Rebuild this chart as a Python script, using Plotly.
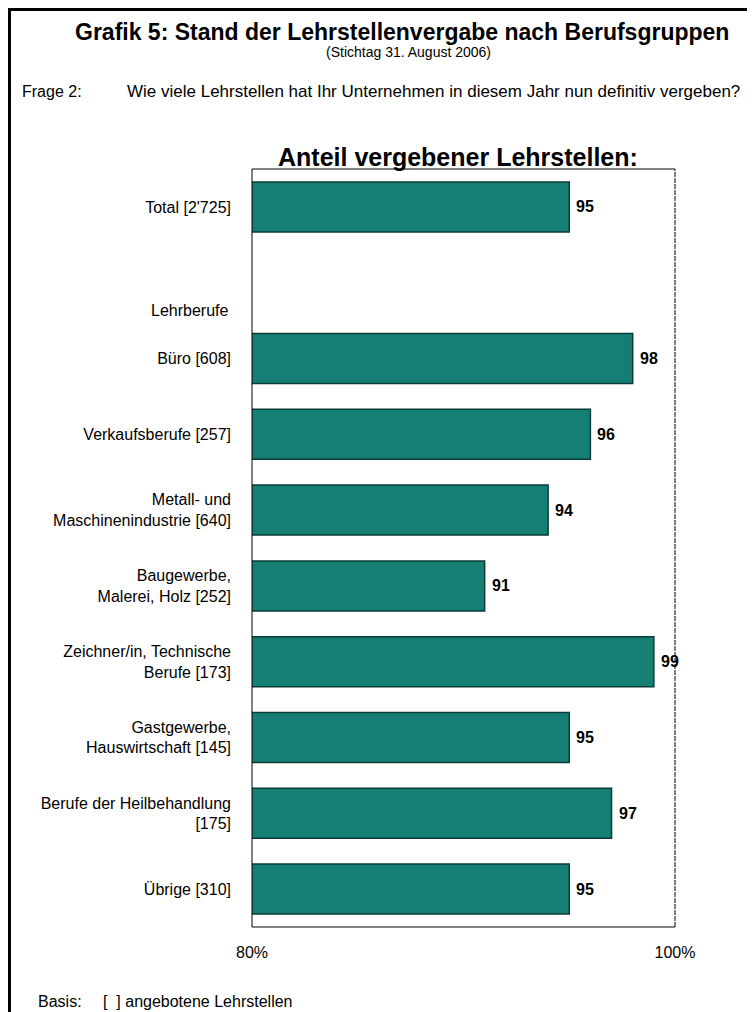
import plotly.graph_objects as go

categories = [
    "Total [2'725]",
    " ",
    "Büro [608]",
    "Verkaufsberufe [257]",
    "Metall- und<br>Maschinenindustrie [640]",
    "Baugewerbe,<br>Malerei, Holz [252]",
    "Zeichner/in, Technische<br>Berufe [173]",
    "Gastgewerbe,<br>Hauswirtschaft [145]",
    "Berufe der Heilbehandlung<br>[175]",
    "Übrige [310]",
]
values = [95, None, 98, 96, 94, 91, 99, 95, 97, 95]
tick_vals = [80, 100]
tick_text = ["80%", "100%"]

# page body has an 8px margin: work in reference pixels, then shift by OFF
OFF = 8
W, H = 755 - OFF, 1012 - OFF
L, R, T, B = 252 - OFF, 675 - OFF, 169 - OFF, 927 - OFF
FONT = "Liberation Sans, Arial, sans-serif"

def px(x):
    return (x - OFF - L) / (R - L)

def py(y):
    return (B - (y - OFF)) / (B - T)

fig = go.Figure()
fig.add_trace(go.Bar(
    y=categories,
    x=values,
    orientation="h",
    marker=dict(color="#167F74", line=dict(color="#0B3B35", width=1.5)),
    hoverinfo="skip",
))

shapes = [
    # outer frame
    dict(type="rect", xref="paper", yref="paper", x0=px(9.5), x1=px(780), y0=py(1040), y1=py(9.5),
         line=dict(color="black", width=3), layer="below"),
    # plot frame
    dict(type="line", xref="paper", yref="paper", x0=0, x1=1, y0=1, y1=1, line=dict(color="black", width=1)),
    dict(type="line", xref="paper", yref="paper", x0=0, x1=1, y0=0, y1=0, line=dict(color="black", width=1)),
    dict(type="line", xref="paper", yref="paper", x0=0, x1=0, y0=0, y1=1, line=dict(color="black", width=1)),
    dict(type="line", xref="paper", yref="paper", x0=1, x1=1, y0=0, y1=1,
         line=dict(color="black", width=1, dash="5px,1px")),
]

annotations = [
    dict(text="<b>Grafik 5: Stand der Lehrstellenvergabe nach Berufsgruppen</b>", x=px(402), y=py(32),
         font=dict(size=23)),
    dict(text="(Stichtag 31. August 2006)", x=px(408), y=py(52), font=dict(size=14)),
    dict(text="Frage 2:", x=px(20), y=py(91), xanchor="left", font=dict(size=16)),
    dict(text="Wie viele Lehrstellen hat Ihr Unternehmen in diesem Jahr nun definitiv vergeben?",
         x=px(125), y=py(91), xanchor="left", font=dict(size=17)),
    dict(text="<b>Anteil vergebener Lehrstellen:</b>", x=px(458), y=py(157), font=dict(size=25)),
    dict(text="Lehrberufe", x=px(230), y=py(310), xanchor="right", font=dict(size=16)),
    dict(text="Basis:", x=px(36), y=py(1001), xanchor="left", font=dict(size=16)),
    dict(text="[  ] angebotene Lehrstellen", x=px(101), y=py(1001), xanchor="left", font=dict(size=16)),
]
for a in annotations:
    a.update(xref="paper", yref="paper", showarrow=False, yanchor="middle")
    a.setdefault("xanchor", "center")
    a["font"].update(family=FONT, color="black")

# value labels built from the data
for c, v in zip(categories, values):
    if v is None:
        continue
    annotations.append(dict(
        x=v, y=c, xref="x", yref="y", text=f"<b>{v}</b>", showarrow=False,
        xanchor="left", yanchor="middle", xshift=5,
        font=dict(family=FONT, size=16, color="black"),
    ))

fig.update_layout(
    width=W, height=H,
    margin=dict(l=L, r=W - R, t=T, b=H - B, pad=0),
    paper_bgcolor="white", plot_bgcolor="white",
    showlegend=False,
    bargap=0.34,
    font=dict(family=FONT, size=16, color="black"),
    shapes=shapes,
    annotations=annotations,
    xaxis=dict(range=[80, 100], tickvals=tick_vals, ticktext=tick_text, showgrid=False,
               zeroline=False, showline=False, ticks="", ticklabelstandoff=14,
               tickfont=dict(family=FONT, size=16)),
    yaxis=dict(categoryorder="array", categoryarray=categories, autorange="reversed",
               showgrid=False, zeroline=False, showline=False, ticks="",
               ticklabelstandoff=20, tickfont=dict(family=FONT, size=16)),
)

fig.write_html("out.html")
